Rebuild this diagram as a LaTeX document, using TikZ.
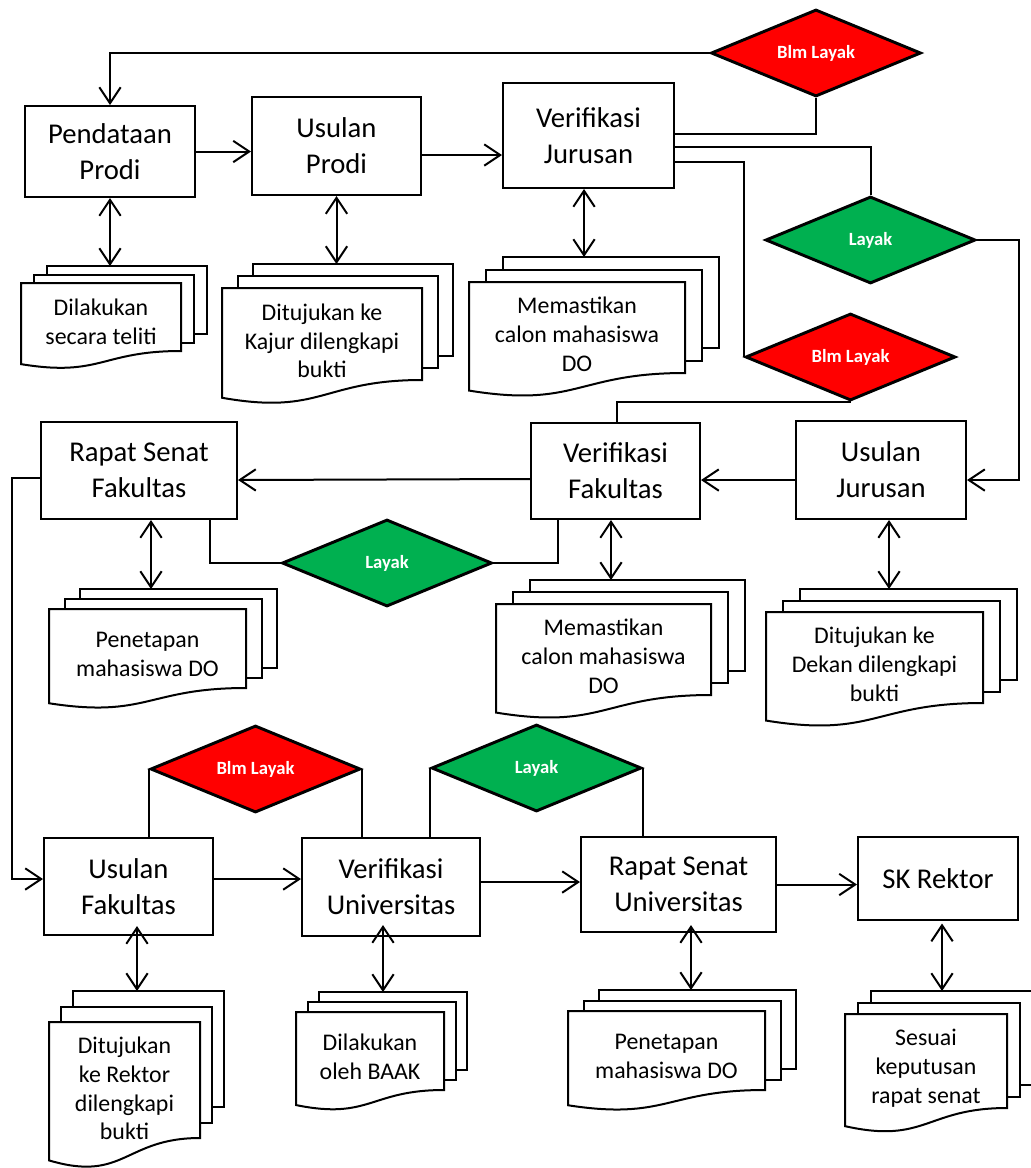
\documentclass[tikz,border=0pt]{standalone}
\usepackage{fontspec}
\setmainfont{Carlito}
\usetikzlibrary{arrows.meta,calc,shapes.geometric}
\definecolor{redD}{HTML}{FF0000}
\definecolor{greenD}{HTML}{00B050}
% #1 name, #2 L, #3 R, #4 T, #5 B (right bottom), #6 dx, #7 dy, #8 text
\newcommand\docstack[8]{%
  \draw[sheet] (#2+2*#6,#4-2*#7) rectangle (#3+2*#6,#5-2*#7);
  \draw[sheet] (#2+#6,#4-#7) rectangle (#3+#6,#5-#7);
  \draw[sheet] (#2,#4) -- (#3,#4) -- (#3,#5)
     .. controls ({(#2+#3)/2},#5) and ({(#2+#3)/2},{#5+0.386*(#5-#4)}) ..
     (#2,{#5+0.193*(#5-#4)}) -- cycle;
  \node[doctext] (#1) at ({(#2+#3)/2},{#4+0.575*(#5-#4)}) {#8};
  \coordinate (#1-top) at ({(#2+#3)/2+2*#6},{#4-2*#7});
}
\begin{document}
\begin{tikzpicture}[x=0.75pt,y=-0.75pt,
 box/.style={draw,line width=1.5pt,fill=white,inner sep=0pt,align=center,font=\fontsize{21.5}{27}\selectfont},
 dia/.style={diamond,shape aspect=2.4,draw,line width=2.2pt,inner sep=0pt,minimum width=157.5pt,minimum height=65.25pt,text=white,font=\bfseries\fontsize{14}{16.5}\selectfont},
 sheet/.style={draw,line width=1.5pt,fill=white},
 doctext/.style={align=center,inner sep=0pt,font=\fontsize{17.9}{21.5}\selectfont},
 line/.style={line width=1.5pt},
 arr/.style={line width=1.5pt,-{Straight Barb[length=12pt,width=16pt]}},
 dbl/.style={line width=1.5pt,{Straight Barb[length=12pt,width=16pt]}-{Straight Barb[length=12pt,width=16pt]}},
]
\useasboundingbox (0,0) rectangle (1031,1168);
\clip (0,0) rectangle (1031,1168);
\fill[white] (0,0) rectangle (1031,1168);

% process boxes
\node[box,minimum width=127.5pt,minimum height=68.25pt] (PP) at (110,151.5) {Pendataan\\Prodi};
\node[box,minimum width=126.75pt,minimum height=73.5pt] (UP) at (336.5,146) {Usulan\\Prodi};
\node[box,minimum width=128.25pt,minimum height=78.75pt] (VJ) at (588.5,135.5) {Verifikasi\\Jurusan};
\node[box,minimum width=147pt,minimum height=72.75pt] (RSF) at (139,470.5) {Rapat Senat\\Fakultas};
\node[box,minimum width=126.75pt,minimum height=72pt] (VF) at (615.5,471) {Verifikasi\\Fakultas};
\node[box,minimum width=127.5pt,minimum height=73.5pt] (UJ) at (881,470) {Usulan\\Jurusan};
\node[box,minimum width=126.75pt,minimum height=72.75pt] (UF) at (128.5,886.5) {Usulan\\Fakultas};
\node[box,minimum width=133.5pt,minimum height=73.5pt] (VU) at (391,887) {Verifikasi\\Universitas};
\node[box,minimum width=146.25pt,minimum height=71.25pt] (RSU) at (678.5,884.5) {Rapat Senat\\Universitas};
\node[box,minimum width=120pt,minimum height=62.25pt] (SK) at (938,878.5) {SK Rektor};

% decisions
\node[dia,fill=redD] (D1) at (816,53) {Blm Layak};
\node[dia,fill=greenD] (D2) at (870.5,240) {Layak};
\node[dia,fill=redD] (D3) at (850.5,357) {Blm Layak};
\node[dia,fill=greenD] (D4) at (387,563) {Layak};
\node[dia,fill=redD] (D5) at (255.5,769) {Blm Layak};
\node[dia,fill=greenD] (D6) at (536.5,768) {Layak};

% documents
\docstack{PPd}{21}{181}{283}{351}{13}{8.5}{Dilakukan\\secara teliti}
\docstack{UPd}{222}{422}{288}{380}{15.5}{12}{Ditujukan ke\\Kajur dilengkapi\\bukti}
\docstack{VJd}{469}{685}{282}{373}{17}{12.5}{Memastikan\\calon mahasiswa\\DO}
\docstack{RSFd}{49}{246}{609}{688}{15.5}{10}{Penetapan\\mahasiswa DO}
\docstack{VFd}{496}{711}{604}{695}{17}{12}{Memastikan\\calon mahasiswa\\DO}
\docstack{UJd}{766}{983}{612}{703}{17}{11.5}{Ditujukan ke\\Dekan dilengkapi\\bukti}
\docstack{UFd}{49}{200}{1022}{1138}{12}{15.5}{Ditujukan\\ke Rektor\\dilengkapi\\bukti}
\docstack{VUd}{296}{444}{1012}{1090}{11.5}{10}{Dilakukan\\oleh BAAK}
\docstack{RSUd}{568}{765}{1011}{1090}{15.5}{10.5}{Penetapan\\mahasiswa DO}
\docstack{SKd}{845}{1007}{1014}{1108}{13}{11.5}{Sesuai\\keputusan\\rapat senat}

% flow connectors
\draw[arr] (D1.west) -| (PP.north);
\draw[line] (D1.south) |- ($(VJ.east)+(0,-1.5)$);
\draw[arr] (PP.east) -- (PP.east -| UP.west);
\draw[arr] ($(UP.east)+(0,9)$) -- ($(VJ.west)+(0,19.5)$);
\draw[line] ($(VJ.east)+(0,11.5)$) -| (D2.north);
\draw[line] ($(VJ.east)+(0,26.5)$) -| (D3.west);
\draw[arr] (D2.east) -- ++(42,0) |- ($(UJ.east)+(0,10)$);
\draw[line] (D3.south) -| ($(VF.north)+(1.5,0)$);
\draw[arr] ($(UJ.west)+(0,10)$) -- ($(VF.east)+(0,9)$);
\draw[arr] ($(VF.west)+(0,8)$) -- ($(RSF.east)+(0,9.5)$);
\draw[line] ($(VF.south west)+(28,0)$) |- (D4.east);
\draw[line] (D4.west) -| ($(RSF.south east)+(-28,0)$);
\draw[arr] ($(RSF.west)+(0,7.5)$) -- ++(-28,0) |- ($(UF.west)+(0,-7.5)$);
\draw[arr] ($(UF.east)+(0,-7.5)$) -- ($(VU.west)+(0,-8)$);
\draw[line] (D5.west |- UF.north) -- (D5.west);
\draw[line] (D5.east) -- (D5.east |- VU.north);
\draw[line] (D6.west |- VU.north) -- (D6.west);
\draw[line] (D6.east) -- (D6.east |- RSU.north);
\draw[arr] ($(VU.east)+(0,-5)$) -- ($(RSU.west)+(0,-2.5)$);
\draw[arr] (RSU.east) -- (RSU.east -| SK.west);

% box <-> document
\coordinate (aPP) at (PP.south);
\coordinate (aUP) at (UP.south);
\coordinate (aVJ) at ($(VJ.south)+(-4.5,0)$);
\coordinate (aRSF) at ($(RSF.south)+(12,0)$);
\coordinate (aVF) at ($(VF.south)+(-4.5,0)$);
\coordinate (aUJ) at ($(UJ.south)+(8,0)$);
\coordinate (aUF) at ($(UF.south)+(8.5,-10)$);
\coordinate (aVU) at ($(VU.south)+(-8,-12)$);
\coordinate (aRSU) at ($(RSU.south)+(12.5,-8)$);
\coordinate (aSK) at ($(SK.south)+(4,2.5)$);
\draw[dbl] (aPP) -- (aPP |- PPd-top);
\draw[dbl] (aUP) -- (aUP |- UPd-top);
\draw[dbl] (aVJ) -- (aVJ |- VJd-top);
\draw[dbl] (aRSF) -- (aRSF |- RSFd-top);
\draw[dbl] (aVF) -- (aVF |- VFd-top);
\draw[dbl] (aUJ) -- (aUJ |- UJd-top);
\draw[dbl] (aUF) -- (aUF |- UFd-top);
\draw[dbl] (aVU) -- (aVU |- VUd-top);
\draw[dbl] (aRSU) -- (aRSU |- RSUd-top);
\draw[dbl] (aSK) -- (aSK |- SKd-top);
\end{tikzpicture}
\end{document}
